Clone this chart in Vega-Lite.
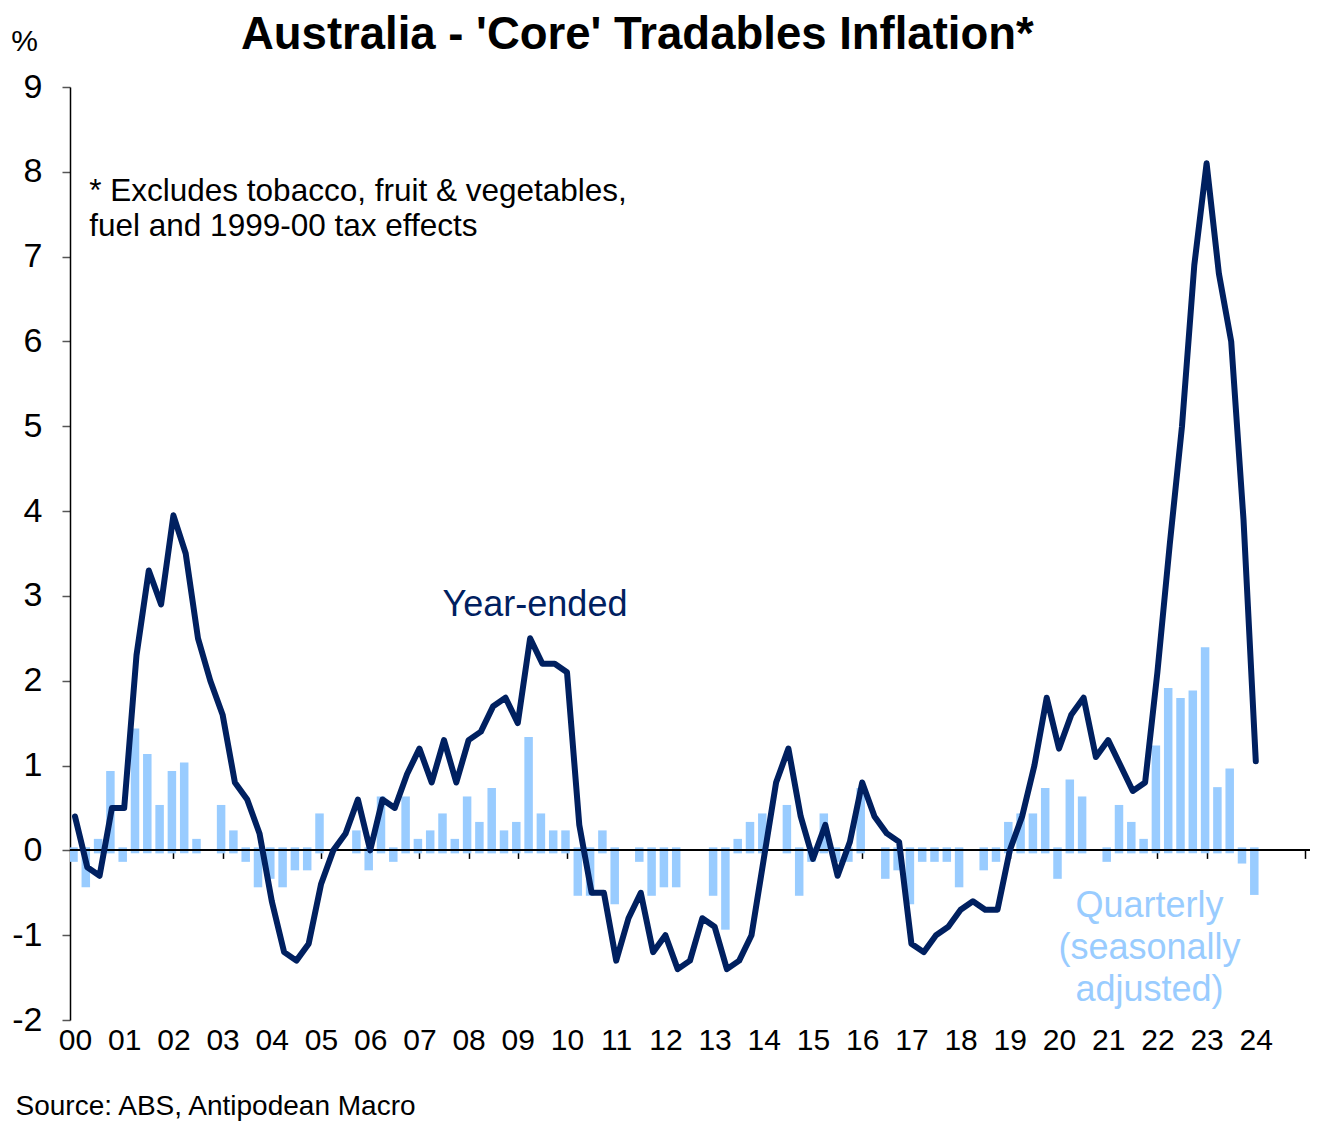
{
  "$schema": "https://vega.github.io/schema/vega-lite/v6.json",
  "width": 1240,
  "height": 933,
  "autosize": {"type": "none"},
  "padding": {"left": 70, "top": 87, "right": 22, "bottom": 111},
  "background": "white",
  "config": {"view": {"stroke": null}, "font": "Liberation Sans"},
  "data": {
    "values": [
      {"t": 2000, "ye": 0.4, "qa": -0.1},
      {"t": 2000.25, "ye": -0.2, "qa": -0.4},
      {"t": 2000.5, "ye": -0.3, "qa": 0.1},
      {"t": 2000.75, "ye": 0.5, "qa": 0.9},
      {"t": 2001, "ye": 0.5, "qa": -0.1},
      {"t": 2001.25, "ye": 2.3, "qa": 1.4},
      {"t": 2001.5, "ye": 3.3, "qa": 1.1},
      {"t": 2001.75, "ye": 2.9, "qa": 0.5},
      {"t": 2002, "ye": 3.95, "qa": 0.9},
      {"t": 2002.25, "ye": 3.5, "qa": 1.0},
      {"t": 2002.5, "ye": 2.5, "qa": 0.1},
      {"t": 2002.75, "ye": 2.0, "qa": null},
      {"t": 2003, "ye": 1.6, "qa": 0.5},
      {"t": 2003.25, "ye": 0.8, "qa": 0.2},
      {"t": 2003.5, "ye": 0.6, "qa": -0.1},
      {"t": 2003.75, "ye": 0.2, "qa": -0.4},
      {"t": 2004, "ye": -0.6, "qa": -0.3},
      {"t": 2004.25, "ye": -1.2, "qa": -0.4},
      {"t": 2004.5, "ye": -1.3, "qa": -0.2},
      {"t": 2004.75, "ye": -1.1, "qa": -0.2},
      {"t": 2005, "ye": -0.4, "qa": 0.4},
      {"t": 2005.25, "ye": 0.0, "qa": null},
      {"t": 2005.5, "ye": 0.2, "qa": null},
      {"t": 2005.75, "ye": 0.6, "qa": 0.2},
      {"t": 2006, "ye": 0.0, "qa": -0.2},
      {"t": 2006.25, "ye": 0.6, "qa": 0.6},
      {"t": 2006.5, "ye": 0.5, "qa": -0.1},
      {"t": 2006.75, "ye": 0.9, "qa": 0.6},
      {"t": 2007, "ye": 1.2, "qa": 0.1},
      {"t": 2007.25, "ye": 0.8, "qa": 0.2},
      {"t": 2007.5, "ye": 1.3, "qa": 0.4},
      {"t": 2007.75, "ye": 0.8, "qa": 0.1},
      {"t": 2008, "ye": 1.3, "qa": 0.6},
      {"t": 2008.25, "ye": 1.4, "qa": 0.3},
      {"t": 2008.5, "ye": 1.7, "qa": 0.7},
      {"t": 2008.75, "ye": 1.8, "qa": 0.2},
      {"t": 2009, "ye": 1.5, "qa": 0.3},
      {"t": 2009.25, "ye": 2.5, "qa": 1.3},
      {"t": 2009.5, "ye": 2.2, "qa": 0.4},
      {"t": 2009.75, "ye": 2.2, "qa": 0.2},
      {"t": 2010, "ye": 2.1, "qa": 0.2},
      {"t": 2010.25, "ye": 0.3, "qa": -0.5},
      {"t": 2010.5, "ye": -0.5, "qa": -0.5},
      {"t": 2010.75, "ye": -0.5, "qa": 0.2},
      {"t": 2011, "ye": -1.3, "qa": -0.6},
      {"t": 2011.25, "ye": -0.8, "qa": null},
      {"t": 2011.5, "ye": -0.5, "qa": -0.1},
      {"t": 2011.75, "ye": -1.2, "qa": -0.5},
      {"t": 2012, "ye": -1.0, "qa": -0.4},
      {"t": 2012.25, "ye": -1.4, "qa": -0.4},
      {"t": 2012.5, "ye": -1.3, "qa": null},
      {"t": 2012.75, "ye": -0.8, "qa": null},
      {"t": 2013, "ye": -0.9, "qa": -0.5},
      {"t": 2013.25, "ye": -1.4, "qa": -0.9},
      {"t": 2013.5, "ye": -1.3, "qa": 0.1},
      {"t": 2013.75, "ye": -1.0, "qa": 0.3},
      {"t": 2014, "ye": -0.1, "qa": 0.4},
      {"t": 2014.25, "ye": 0.8, "qa": null},
      {"t": 2014.5, "ye": 1.2, "qa": 0.5},
      {"t": 2014.75, "ye": 0.4, "qa": -0.5},
      {"t": 2015, "ye": -0.1, "qa": -0.1},
      {"t": 2015.25, "ye": 0.3, "qa": 0.4},
      {"t": 2015.5, "ye": -0.3, "qa": -0.1},
      {"t": 2015.75, "ye": 0.1, "qa": -0.1},
      {"t": 2016, "ye": 0.8, "qa": 0.7},
      {"t": 2016.25, "ye": 0.4, "qa": null},
      {"t": 2016.5, "ye": 0.2, "qa": -0.3},
      {"t": 2016.75, "ye": 0.1, "qa": -0.2},
      {"t": 2017, "ye": -1.1, "qa": -0.6},
      {"t": 2017.25, "ye": -1.2, "qa": -0.1},
      {"t": 2017.5, "ye": -1.0, "qa": -0.1},
      {"t": 2017.75, "ye": -0.9, "qa": -0.1},
      {"t": 2018, "ye": -0.7, "qa": -0.4},
      {"t": 2018.25, "ye": -0.6, "qa": null},
      {"t": 2018.5, "ye": -0.7, "qa": -0.2},
      {"t": 2018.75, "ye": -0.7, "qa": -0.1},
      {"t": 2019, "ye": 0.0, "qa": 0.3},
      {"t": 2019.25, "ye": 0.4, "qa": 0.4},
      {"t": 2019.5, "ye": 1.0, "qa": 0.4},
      {"t": 2019.75, "ye": 1.8, "qa": 0.7},
      {"t": 2020, "ye": 1.2, "qa": -0.3},
      {"t": 2020.25, "ye": 1.6, "qa": 0.8},
      {"t": 2020.5, "ye": 1.8, "qa": 0.6},
      {"t": 2020.75, "ye": 1.1, "qa": null},
      {"t": 2021, "ye": 1.3, "qa": -0.1},
      {"t": 2021.25, "ye": 1.0, "qa": 0.5},
      {"t": 2021.5, "ye": 0.7, "qa": 0.3},
      {"t": 2021.75, "ye": 0.8, "qa": 0.1},
      {"t": 2022, "ye": 2.1, "qa": 1.2},
      {"t": 2022.25, "ye": 3.6, "qa": 1.88},
      {"t": 2022.5, "ye": 5.0, "qa": 1.76},
      {"t": 2022.75, "ye": 6.9, "qa": 1.85},
      {"t": 2023, "ye": 8.1, "qa": 2.36},
      {"t": 2023.25, "ye": 6.8, "qa": 0.71},
      {"t": 2023.5, "ye": 6.0, "qa": 0.93},
      {"t": 2023.75, "ye": 3.9, "qa": -0.12},
      {"t": 2024, "ye": 1.05, "qa": -0.49}
    ]
  },
  "layer": [
    {
      "transform": [{"filter": "datum.qa != null"}],
      "mark": {"type": "bar", "color": "#99CCFF", "stroke": "#99CCFF", "strokeWidth": 6, "width": 2.5, "clip": true, "xOffset": -1.5},
      "encoding": {
        "x": {
          "field": "t",
          "type": "quantitative",
          "scale": {"domain": [2000, 2025], "nice": false, "zero": false},
          "axis": {
            "values": [2000, 2001, 2002, 2003, 2004, 2005, 2006, 2007, 2008, 2009, 2010, 2011, 2012, 2013, 2014, 2015, 2016, 2017, 2018, 2019, 2020, 2021, 2022, 2023, 2024, 2025],
            "labelExpr": "datum.value > 2024 ? '' : slice(toString(datum.value), 2)",
            "domain": false,
            "ticks": true,
            "tickSize": 8,
            "tickColor": "black",
            "tickWidth": 1.5,
            "offset": -169.6,
            "labelPadding": 167,
            "labelFontSize": 30,
            "labelColor": "black",
            "labelFont": "Liberation Sans",
            "labelFlush": false,
            "labelOverlap": false,
            "grid": false,
            "title": "Source: ABS, Antipodean Macro",
            "titleFont": "Liberation Sans",
            "titleFontSize": 28,
            "titleFontWeight": "normal",
            "titleColor": "black",
            "titleAnchor": "start",
            "titleAlign": "left",
            "titleX": -55,
            "titleY": 264,
            "titleBaseline": "alphabetic"
          }
        },
        "y": {
          "field": "qa",
          "type": "quantitative",
          "scale": {"domain": [-2, 9], "nice": false},
          "axis": {
            "values": [-2, -1, 0, 1, 2, 3, 4, 5, 6, 7, 8, 9],
            "labelExpr": "toString(datum.value)",
            "domain": true,
            "domainColor": "black",
            "domainWidth": 1.5,
            "ticks": true,
            "tickSize": 8,
            "tickColor": "#555555",
            "tickWidth": 1.5,
            "labelFontSize": 34,
            "labelFont": "Liberation Sans",
            "labelColor": "black",
            "labelPadding": 20,
            "labelFlush": false,
            "grid": false,
            "title": "%",
            "titleFont": "Liberation Sans",
            "titleAngle": 0,
            "titleFontSize": 30,
            "titleFontWeight": "normal",
            "titleColor": "black",
            "titleX": -46,
            "titleY": -37,
            "titleAlign": "center",
            "titleBaseline": "alphabetic"
          }
        }
      }
    },
    {
      "mark": {"type": "rule", "color": "black", "strokeWidth": 1.5},
      "encoding": {"y": {"datum": 0, "type": "quantitative"}}
    },
    {
      "mark": {"type": "line", "color": "#002060", "strokeWidth": 6, "strokeCap": "round", "strokeJoin": "round", "clip": true},
      "encoding": {
        "x": {"field": "t", "type": "quantitative"},
        "y": {"field": "ye", "type": "quantitative"}
      }
    },
    {
      "data": {"values": [{}]},
      "mark": {"type": "text", "text": "Australia - 'Core' Tradables Inflation*", "align": "center", "baseline": "alphabetic", "fontSize": 45.5, "fontWeight": "bold", "color": "black", "font": "Liberation Sans"},
      "encoding": {"x": {"datum": 2011.43, "type": "quantitative"}, "y": {"datum": 9.45, "type": "quantitative"}}
    },
    {
      "data": {"values": [{}]},
      "mark": {"type": "text", "text": ["* Excludes tobacco, fruit & vegetables,", "fuel and 1999-00 tax effects"], "align": "left", "baseline": "alphabetic", "fontSize": 31.5, "lineHeight": 35, "color": "black", "font": "Liberation Sans"},
      "encoding": {"x": {"datum": 2000.29, "type": "quantitative"}, "y": {"datum": 7.66, "type": "quantitative"}}
    },
    {
      "data": {"values": [{}]},
      "mark": {"type": "text", "text": "Year-ended", "align": "center", "baseline": "alphabetic", "fontSize": 36, "color": "#002060", "font": "Liberation Sans"},
      "encoding": {"x": {"datum": 2009.35, "type": "quantitative"}, "y": {"datum": 2.76, "type": "quantitative"}}
    },
    {
      "data": {"values": [{}]},
      "mark": {"type": "text", "text": ["Quarterly", "(seasonally", "adjusted)"], "align": "center", "baseline": "alphabetic", "fontSize": 36, "lineHeight": 42, "color": "#99CCFF", "font": "Liberation Sans"},
      "encoding": {"x": {"datum": 2021.84, "type": "quantitative"}, "y": {"datum": -0.79, "type": "quantitative"}}
    }
  ]
}
